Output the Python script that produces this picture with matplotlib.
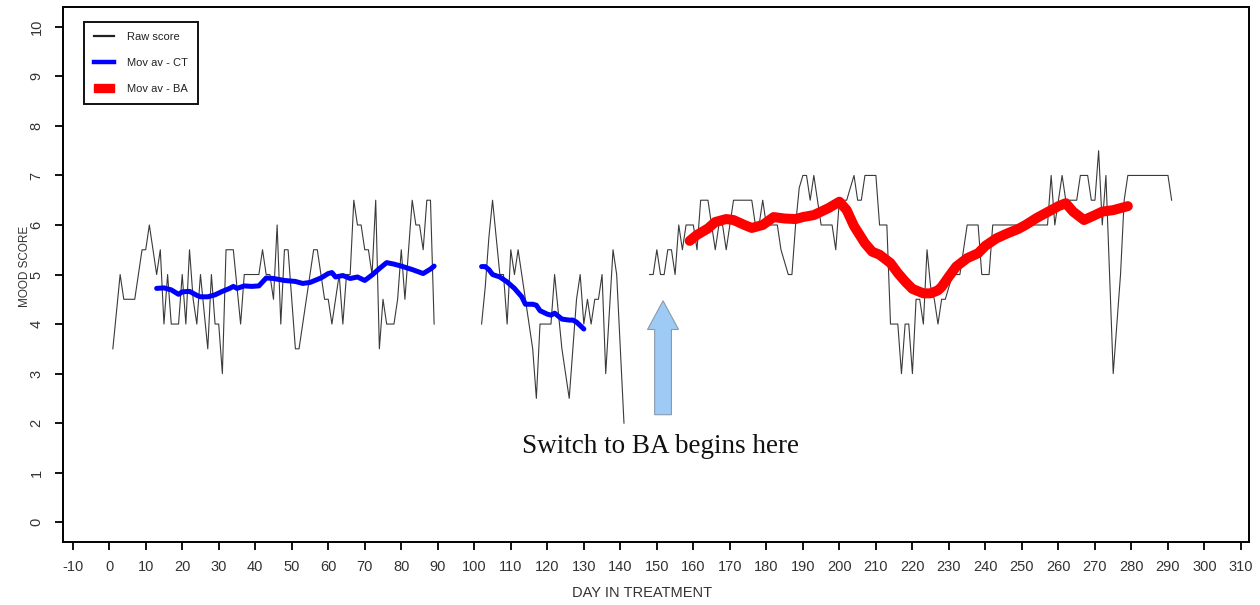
import numpy as np
import matplotlib
matplotlib.use("Agg")
import matplotlib.pyplot as plt
from matplotlib.lines import Line2D
from matplotlib.patches import Patch, FancyArrow

# ---------------- data ----------------
# Raw daily mood score, three observed stretches
raw_days_1 = list(range(1, 90))
raw_vals_1 = [3.5, 4.25, 5, 4.5, 4.5, 4.5, 4.5, 5, 5.5, 5.5,
              6, 5.5, 5, 5.5, 4, 5, 4, 4, 4, 5,
              4, 5.5, 4.5, 4, 5, 4.25, 3.5, 5, 4, 4,
              3, 5.5, 5.5, 5.5, 4.75, 4, 5, 5, 5, 5,
              5, 5.5, 5, 5, 4.5, 6, 4, 5.5, 5.5, 4.5,
              3.5, 3.5, 4, 4.5, 5, 5.5, 5.5, 5, 4.5, 4.5,
              4, 4.5, 5, 4, 5, 5, 6.5, 6, 6, 5.5,
              5.5, 5, 6.5, 3.5, 4.5, 4, 4, 4, 4.5, 5.5,
              4.5, 5.5, 6.5, 6, 6, 5.5, 6.5, 6.5, 4]

raw_days_2 = list(range(102, 142))
raw_vals_2 = [4, 4.75, 5.75, 6.5, 5.75, 5, 5, 4, 5.5, 5,
              5.5, 5, 4.5, 4, 3.5, 2.5, 4, 4, 4, 4,
              5, 4.25, 3.5, 3, 2.5, 3.5, 4.5, 5, 4, 4.5,
              4, 4.5, 4.5, 5, 3, 4.25, 5.5, 5, 3.5, 2]

raw_days_3 = list(range(148, 292))
raw_vals_3 = [5, 5, 5.5, 5, 5, 5.5, 5.5, 5, 6, 5.5,
              6, 6, 6, 5.5, 6.5, 6.5, 6.5, 6, 5.5, 6,
              6, 5.5, 6, 6.5, 6.5, 6.5, 6.5, 6.5, 6.5, 6,
              6, 6.5, 6, 6, 6, 6, 5.5, 5.25, 5, 5,
              6, 6.75, 7, 7, 6.5, 7, 6.5, 6, 6, 6,
              6, 5.5, 6.5, 6.5, 6.5, 6.75, 7, 6.5, 6.5, 7,
              7, 7, 7, 6, 6, 6, 4, 4, 4, 3,
              4, 4, 3, 4.5, 4.5, 4, 5.5, 4.75, 4.5, 4,
              4.5, 4.5, 4.75, 5, 5, 5, 5.5, 6, 6, 6,
              6, 5, 5, 5, 6, 6, 6, 6, 6, 6,
              6, 6, 6, 6, 6, 6, 6, 6, 6, 6,
              7, 6, 6.5, 7, 6.5, 6.5, 6.5, 6.5, 7, 7,
              7, 6.5, 6.5, 7.5, 6, 7, 5, 3, 4, 5,
              6.5, 7, 7, 7, 7, 7, 7, 7, 7, 7,
              7, 7, 7, 6.5]

# Moving average - cognitive therapy (two stretches)
ct_days_1 = [13, 15, 17, 19, 20, 22, 24, 25, 27, 29, 31, 33, 34, 35, 37, 39,
             41, 43, 45, 48, 51, 53, 55, 58, 60, 61, 62, 64, 66, 68, 70, 72,
             74, 76, 78, 80, 83, 86, 88, 89]
ct_vals_1 = [4.72, 4.73, 4.69, 4.60, 4.65, 4.66, 4.58, 4.55, 4.55, 4.59, 4.66,
             4.72, 4.76, 4.72, 4.77, 4.76, 4.77, 4.93, 4.92, 4.88, 4.86, 4.82,
             4.84, 4.93, 5.02, 5.04, 4.95, 4.98, 4.92, 4.95, 4.88, 4.99, 5.12,
             5.24, 5.21, 5.17, 5.10, 5.02, 5.11, 5.17]
ct_days_2 = [102, 103, 104, 105, 107, 109, 111, 113, 114, 116, 117, 118, 120,
             121, 122, 124, 126, 127, 128, 130]
ct_vals_2 = [5.16, 5.16, 5.10, 5.00, 4.95, 4.85, 4.72, 4.55, 4.40, 4.40, 4.38,
             4.27, 4.20, 4.18, 4.22, 4.10, 4.08, 4.08, 4.04, 3.90]

# Moving average - behavioural activation
ba_days = [159, 161, 164, 166, 169, 171, 174, 176, 179, 182, 185, 188, 190,
           193, 195, 197, 200, 202, 204, 207, 209, 211, 214, 216, 218, 220,
           223, 225, 227, 228, 230, 232, 235, 238, 240, 243, 246, 249, 251,
           254, 256, 258, 260, 262, 264, 267, 270, 272, 275, 277, 279]
ba_vals = [5.68, 5.80, 5.93, 6.06, 6.12, 6.10, 6.00, 5.94, 6.00, 6.16, 6.13,
           6.12, 6.16, 6.20, 6.27, 6.34, 6.47, 6.30, 5.98, 5.63, 5.46, 5.40,
           5.23, 5.03, 4.86, 4.71, 4.62, 4.62, 4.68, 4.75, 4.96, 5.16, 5.33,
           5.43, 5.58, 5.73, 5.83, 5.92, 6.00, 6.14, 6.22, 6.30, 6.38, 6.44,
           6.27, 6.10, 6.20, 6.27, 6.30, 6.34, 6.38]

x_ticks = list(range(-10, 311, 10))
y_ticks = list(range(0, 11))
legend_labels = ["Raw score", "Mov av - CT", "Mov av - BA"]
annotation_text = "Switch to BA begins here"
switch_day = 151.7

# ---------------- plot ----------------
plt.rcParams['font.family'] = ['Liberation Sans', 'DejaVu Sans']

fig = plt.figure(figsize=(12.6, 6.05), dpi=100)
ax = fig.add_axes([0.05, 0.1041, 0.9413, 0.8843])

raw_color = '#3a3a3a'
for d, v in [(raw_days_1, raw_vals_1), (raw_days_2, raw_vals_2), (raw_days_3, raw_vals_3)]:
    ax.plot(d, v, color=raw_color, lw=0.8, zorder=2)

for d, v in [(ct_days_1, ct_vals_1), (ct_days_2, ct_vals_2)]:
    ax.plot(d, v, color='#0000FF', lw=3.6, solid_capstyle='round',
            solid_joinstyle='round', zorder=3)

ax.plot(ba_days, ba_vals, color='#FF0000', lw=7.2, solid_capstyle='round',
        solid_joinstyle='round', zorder=3)

# arrow
arrow = FancyArrow(switch_day, 2.17, 0, 2.30, width=4.6, head_width=8.5,
                   head_length=0.58, length_includes_head=True,
                   facecolor='#9ECBF5', edgecolor='#8A9AAA', lw=0.8, zorder=4)
ax.add_patch(arrow)
ax.text(150.9, 1.53, annotation_text, family=['Liberation Serif', 'DejaVu Serif'],
        fontsize=19.5, ha='center', va='center', color='#111111')

ax.set_xlim(-12.65, 312.2)
ax.set_ylim(-0.4, 10.4)
ax.set_xticks(x_ticks)
ax.set_xticklabels([str(t) for t in x_ticks])
ax.set_yticks(y_ticks)
ax.set_yticklabels([str(t) for t in y_ticks], rotation=90, va='center')

for s in ax.spines.values():
    s.set_linewidth(1.4)
ax.tick_params(axis='both', direction='out', length=6, width=1.4,
               labelsize=10.5, colors='#111111', labelcolor='#333333')
ax.tick_params(axis='x', pad=7)
ax.tick_params(axis='y', pad=8)

ax.set_xlabel("DAY IN TREATMENT", fontsize=10.5, color='#333333')
ax.xaxis.set_label_coords(0.488, -0.095)
ax.xaxis.label.set_va('center')
ax.set_ylabel("MOOD SCORE", fontsize=8.5, color='#333333')
ax.yaxis.set_label_coords(-0.032, 0.516)
ax.yaxis.label.set_va('center')

handles = [Line2D([0], [0], color='#222222', lw=1.6),
           Line2D([0], [0], color='#0000FF', lw=3.2),
           Patch(facecolor='#FF0000', edgecolor='#FF0000')]
leg = ax.legend(handles, legend_labels, loc='upper left',
                bbox_to_anchor=(0.0177, 0.972), borderaxespad=0,
                fontsize=8, fancybox=False, framealpha=1, edgecolor='#111111',
                labelspacing=1.45, handlelength=1.8, handletextpad=1.2,
                borderpad=0.9)
leg.get_frame().set_linewidth(1.4)
for t in leg.get_texts():
    t.set_color('#222222')

fig.savefig("out.png", dpi=100)
